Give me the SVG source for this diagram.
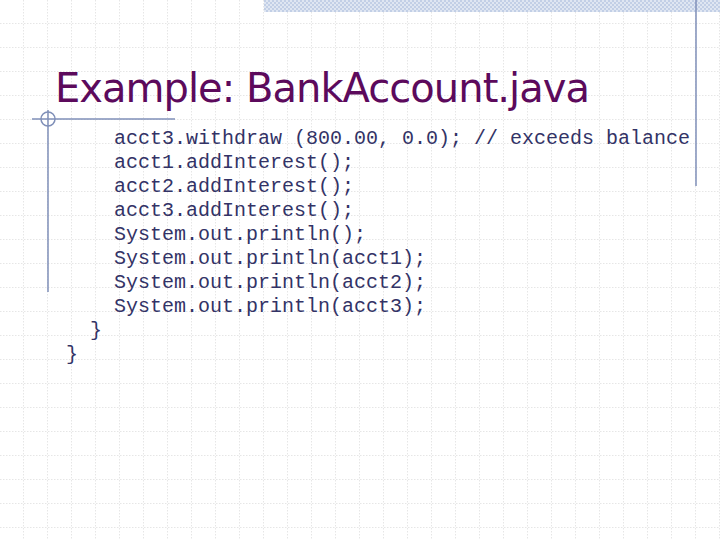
<svg xmlns="http://www.w3.org/2000/svg" width="720" height="540" viewBox="0 0 720 540">
<defs>
<pattern id="g" width="24" height="24" patternUnits="userSpaceOnUse">
<path d="M24 0V24M0 24H24" fill="none" stroke="#cccccc" stroke-width="1" stroke-dasharray="1.5 1.5"/>
</pattern>
<pattern id="c" width="4" height="4" patternUnits="userSpaceOnUse">
<rect width="4" height="4" fill="#dfe6f2"/><rect width="2" height="2" fill="#c2cfe6"/><rect x="2" y="2" width="2" height="2" fill="#c2cfe6"/>
</pattern>
</defs>
<style>
.code{font-family:"Liberation Mono",monospace;font-size:20px;fill:#333366}
</style>
<rect width="720" height="540" fill="#fff"/>
<rect width="720" height="540" fill="url(#g)"/>
<rect x="264" y="0" width="456" height="12" fill="url(#c)"/>
<g id="decor" stroke="#7f8fb8" stroke-width="1.5" fill="none">
<line x1="696" y1="0" x2="696" y2="186"/>
<line x1="32" y1="119" x2="175" y2="119"/>
<line x1="48" y1="110" x2="48" y2="292"/>
<circle cx="48" cy="119" r="7"/>
</g>
<text x="55" y="102" font-family="DejaVu Sans,sans-serif" font-size="40" fill="#5c0a5c" textLength="535">Example: BankAccount.java</text>
<g id="code">
<text class="code" x="114" y="144">acct3.withdraw (800.00, 0.0); // exceeds balance</text>
<text class="code" x="114" y="168">acct1.addInterest();</text>
<text class="code" x="114" y="192">acct2.addInterest();</text>
<text class="code" x="114" y="216">acct3.addInterest();</text>
<text class="code" x="114" y="240">System.out.println();</text>
<text class="code" x="114" y="264">System.out.println(acct1);</text>
<text class="code" x="114" y="288">System.out.println(acct2);</text>
<text class="code" x="114" y="312">System.out.println(acct3);</text>
<text class="code" x="90" y="336">}</text>
<text class="code" x="66" y="360">}</text>
</g>
</svg>
